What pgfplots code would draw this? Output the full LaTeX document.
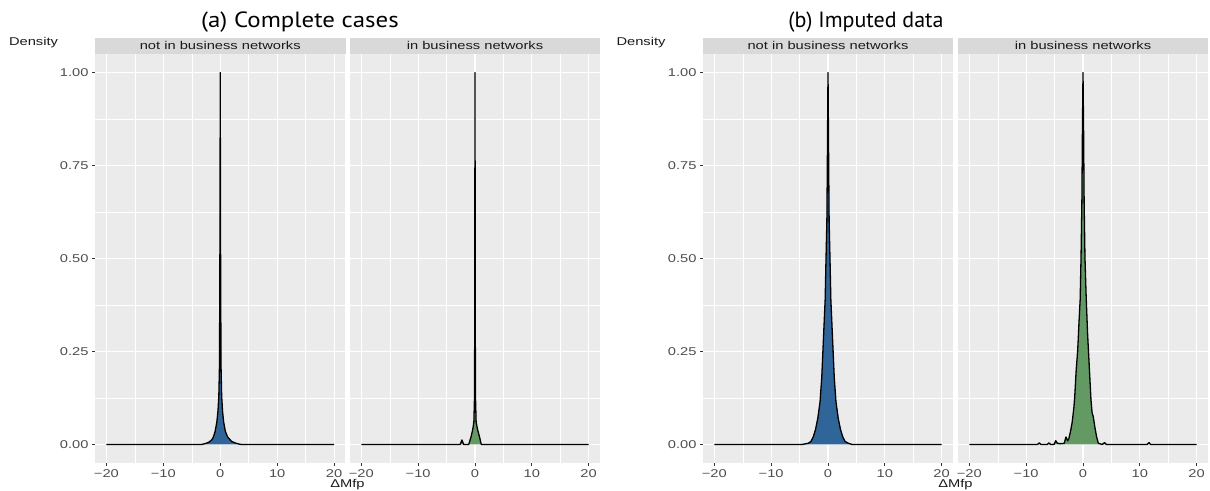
\documentclass[border=0pt]{standalone}
\usepackage{graphicx}
\usepackage{fontspec}
\setmainfont{Liberation Sans}
\newfontfamily\titlefont{PT Sans}
\usepackage{pgfplots}
\pgfplotsset{compat=1.18}

\definecolor{ggbg}{HTML}{EBEBEB}
\definecolor{stripcol}{HTML}{D9D9D9}
\definecolor{labcol}{HTML}{4D4D4D}
\definecolor{tickcol}{HTML}{333333}
\definecolor{txtcol}{HTML}{1A1A1A}
\definecolor{blueFill}{RGB}{47,101,152}
\definecolor{greenFill}{RGB}{99,153,99}

% ggplot output was stretched sideways, so text is widened to match
\newcommand\wide[1]{\scalebox{1.3}[1]{#1}}
\newcommand\ggsize{\fontsize{11.3}{12}\selectfont}

\pgfplotsset{
  ggpanel/.style={
    scale only axis, width=250pt, height=409pt, anchor=north west,
    xmin=-22, xmax=22, ymin=-0.05, ymax=1.05,
    axis background/.style={fill=ggbg},
    axis line style={draw=none},
    grid=both,
    major grid style={white, line width=1.1pt},
    minor grid style={white, line width=0.55pt},
    xtick={-20,-10,0,10,20}, minor xtick={-15,-5,5,15},
    ytick={0,0.25,0.5,0.75,1}, minor ytick={0.125,0.375,0.625,0.875},
    xticklabels={\wide{−20},\wide{−10},\wide{0},\wide{10},\wide{20}},
    yticklabels={\wide{0.00},\wide{0.25},\wide{0.50},\wide{0.75},\wide{1.00}},
    tick align=outside, major tick length=3pt, minor tick length=0pt,
    tick style={color=tickcol, line width=0.8pt},
    xtick pos=left, ytick pos=left,
    ticklabel style={font=\ggsize, text=labcol},
  },
  noylab/.style={yticklabels={}, ytick style={draw=none}},
  dens/.style={draw=black, line width=1.3pt, line join=round, fill=#1},
}

\begin{document}
\begin{tikzpicture}
\path[use as bounding box] (0,0) rectangle (1210pt,-490pt);

% ===== (a) Complete cases =====
\begin{axis}[ggpanel, at={(95pt,-54pt)}, width=250.5pt]
\addplot[dens=blueFill] coordinates {
  (-20,0) (-3.2,0) (-2.5,0.003) (-2,0.006) (-1.5,0.012) (-1.2,0.02) (-0.9,0.035)
  (-0.6,0.06) (-0.4,0.09) (-0.25,0.13) (-0.15,0.2) (-0.08,0.4) (-0.03,0.7) (0,1)
  (0.03,0.7) (0.08,0.4) (0.15,0.2) (0.25,0.13) (0.4,0.09) (0.6,0.06) (0.9,0.035)
  (1.3,0.02) (2,0.008) (2.8,0.003) (3.6,0) (20,0)};
\end{axis}
\begin{axis}[ggpanel, noylab, at={(350pt,-54pt)}]
\addplot[dens=greenFill] coordinates {
  (-20,0) (-2.6,0) (-2.3,0.012) (-2.0,0) (-1.1,0) (-0.7,0.02) (-0.4,0.04)
  (-0.2,0.06) (-0.1,0.12) (-0.05,0.3) (0,1) (0.05,0.3) (0.1,0.12) (0.2,0.06)
  (0.45,0.04) (0.8,0.02) (1.1,0) (20,0)};
\end{axis}

% ===== (b) Imputed data =====
\begin{axis}[ggpanel, at={(703pt,-54pt)}]
\addplot[dens=blueFill] coordinates {
  (-20,0) (-4.5,0) (-3.5,0.003) (-3,0.008) (-2.6,0.02) (-2.2,0.04) (-1.8,0.07)
  (-1.4,0.115) (-1.1,0.18) (-0.9,0.25) (-0.7,0.32) (-0.5,0.39) (-0.35,0.5)
  (-0.2,0.6) (-0.12,0.75) (-0.05,0.9) (0,1) (0.05,0.9) (0.12,0.75) (0.2,0.6)
  (0.35,0.5) (0.5,0.39) (0.7,0.32) (0.9,0.25) (1.1,0.18) (1.4,0.115) (1.8,0.07)
  (2.2,0.04) (2.6,0.02) (3,0.008) (3.6,0.003) (4.2,0) (20,0)};
\end{axis}
\begin{axis}[ggpanel, noylab, at={(958pt,-54pt)}]
\addplot[dens=greenFill] coordinates {
  (-20,0) (-8,0) (-7.7,0.004) (-7.4,0) (-6.3,0) (-6.0,0.004) (-5.7,0) (-5.1,0)
  (-4.8,0.01) (-4.5,0.003) (-4.0,0.002) (-3.3,0.003) (-3.0,0.02) (-2.7,0.01)
  (-2.5,0.015) (-2.2,0.035) (-1.9,0.06) (-1.6,0.1) (-1.45,0.13) (-1.2,0.2)
  (-0.95,0.25) (-0.85,0.28) (-0.7,0.33) (-0.5,0.39) (-0.35,0.5) (-0.2,0.65)
  (-0.1,0.85) (0,1) (0.1,0.85) (0.2,0.65) (0.35,0.5) (0.55,0.4) (0.8,0.3)
  (1.0,0.24) (1.2,0.18) (1.4,0.12) (1.6,0.085) (1.8,0.075) (2.1,0.045)
  (2.4,0.02) (2.7,0.003) (3.4,0) (3.8,0.005) (4.1,0) (11.3,0) (11.6,0.005)
  (11.9,0) (20,0)};
\end{axis}

% facet strips
\foreach \xl/\xr/\lab in {95/345.5/not in business networks, 350/600/in business networks,
                          703/953/not in business networks, 958/1208/in business networks}{
  \fill[stripcol] (\xl pt,-37.5pt) rectangle (\xr pt,-54pt);
  \node[text=txtcol, font=\ggsize] at ({(\xl+\xr)/2*1pt},-45.75pt) {\wide{\lab}};
}

% titles and axis labels
\node[font=\titlefont\fontsize{22}{24}\selectfont] at (300pt,-22pt) {\scalebox{1.13}[1]{(a) Complete cases}};
\node[font=\titlefont\fontsize{22}{24}\selectfont] at (866pt,-22pt) {(b) Imputed data};
\node[text=txtcol, font=\ggsize] at (33.5pt,-43pt) {\wide{Density}};
\node[text=txtcol, font=\ggsize] at (641pt,-43pt) {\wide{Density}};
\node[text=txtcol, font=\ggsize] at (347.5pt,-484.5pt) {\wide{ΔMfp}};
\node[text=txtcol, font=\ggsize] at (955.5pt,-484.5pt) {\wide{ΔMfp}};
\end{tikzpicture}
\end{document}
